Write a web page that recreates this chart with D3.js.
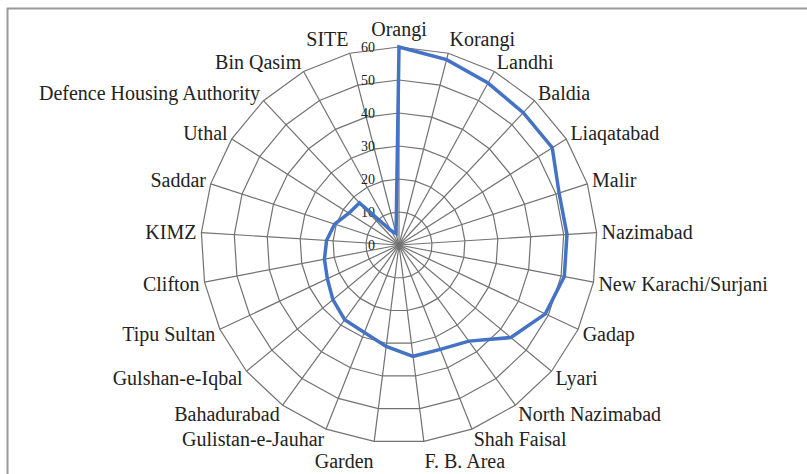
<!DOCTYPE html>
<html>
<head>
<meta charset="utf-8">
<script src="https://cdn.jsdelivr.net/npm/d3@7"></script>
<style>
  body { margin: 0; background: #fff; }
  text { font-family: "Liberation Serif", "Times New Roman", serif; fill: #222; }
</style>
</head>
<body>
<svg id="chart" width="807" height="474"></svg>
<script>
// districts, clockwise from the top
var districts = ["Orangi", "Korangi", "Landhi", "Baldia", "Liaqatabad", "Malir", "Nazimabad",
  "New Karachi/Surjani", "Gadap", "Lyari", "North Nazimabad", "Shah Faisal", "F. B. Area",
  "Garden", "Gulistan-e-Jauhar", "Bahadurabad", "Gulshan-e-Iqbal", "Tipu Sultan", "Clifton",
  "KIMZ", "Saddar", "Uthal", "Defence Housing Authority", "Bin Qasim", "SITE"];

var values = [60, 58, 56, 55, 55, 51, 51, 51, 49, 44, 36, 34, 34, 31, 28.5, 28, 26, 24, 23,
  22, 20.5, 18, 17.5, 5, 3.6];

var ticks = [0, 10, 20, 30, 40, 50, 60];

var svg = d3.select("#chart");

var cx = 399, cy = 245, R = 198;
var n = districts.length;

var r = d3.scaleLinear().domain([0, 60]).range([0, R]);
var ang = d3.scaleLinear().domain([0, n]).range([0, 2 * Math.PI]);

// frame (only top / left visible in the original crop)
svg.append("rect")
  .attr("x", 7.5).attr("y", 8.5)
  .attr("width", 830).attr("height", 500)
  .attr("fill", "none")
  .attr("stroke", "#9a9a9a")
  .attr("stroke-width", 2);

var g = svg.append("g").attr("transform", "translate(" + cx + "," + cy + ")");

function px(i, v) { return  Math.sin(ang(i)) * r(v); }
function py(i, v) { return -Math.cos(ang(i)) * r(v); }

// ring polygons
g.selectAll(".ring")
  .data(ticks.filter(function(t) { return t > 0; }))
  .enter().append("path")
  .attr("class", "ring")
  .attr("d", function(t) {
    return d3.lineRadial()
      .angle(function(d, i) { return ang(i); })
      .radius(r(t))
      .curve(d3.curveLinearClosed)(districts);
  })
  .attr("fill", "none")
  .attr("stroke", "#727272")
  .attr("stroke-width", 1.2);

// spokes
g.selectAll(".spoke")
  .data(districts)
  .enter().append("line")
  .attr("class", "spoke")
  .attr("x1", 0).attr("y1", 0)
  .attr("x2", function(d, i) { return px(i, 60); })
  .attr("y2", function(d, i) { return py(i, 60); })
  .attr("stroke", "#727272")
  .attr("stroke-width", 1.2);

// tick labels
g.selectAll(".tick")
  .data(ticks)
  .enter().append("text")
  .attr("class", "tick")
  .attr("x", -24)
  .attr("y", function(t) { return -r(t); })
  .attr("dy", "0.35em")
  .attr("text-anchor", "end")
  .style("font-size", "14px")
  .text(function(t) { return t; });

// data line
g.append("path")
  .datum(values)
  .attr("d", d3.lineRadial()
    .angle(function(d, i) { return ang(i); })
    .radius(function(d) { return r(d); })
    .curve(d3.curveLinearClosed))
  .attr("fill", "none")
  .attr("stroke", "#4472c4")
  .attr("stroke-width", 3.5)
  .attr("stroke-linejoin", "miter");

// category labels
g.selectAll(".lab")
  .data(districts)
  .enter().append("text")
  .attr("class", "lab")
  .attr("x", function(d, i) { return Math.sin(ang(i)) * (R + 5); })
  .attr("y", function(d, i) {
    var c = Math.cos(ang(i));
    if (Math.abs(Math.sin(ang(i))) < 0.05) return -(R + 6) - 12;
    // near-vertical labels get pushed a bit further out
    var extra = Math.max(0, Math.abs(c) - 0.95) * 200;
    return -c * (R + 5) - c * 6 - Math.sign(c) * extra;
  })
  .attr("dy", "0.35em")
  .attr("text-anchor", function(d, i) {
    var s = Math.sin(ang(i));
    if (Math.abs(s) < 0.05) return "middle";
    return s > 0 ? "start" : "end";
  })
  .style("font-size", "20px")
  .text(function(d) { return d; });
</script>
</body>
</html>
